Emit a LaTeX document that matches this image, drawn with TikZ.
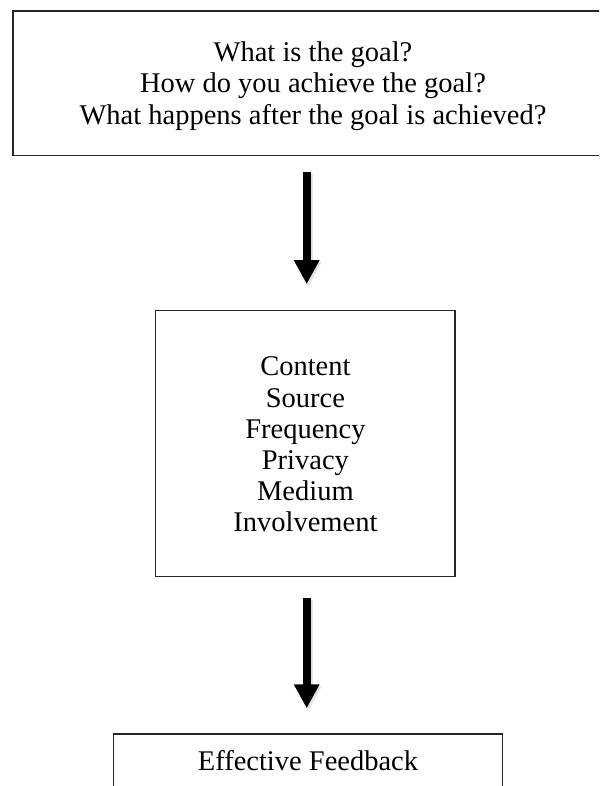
\documentclass[tikz,border=0pt]{standalone}
\usepackage{fontspec}
\setmainfont{Liberation Serif}
\usetikzlibrary{arrows.meta}
\begin{document}
\begin{tikzpicture}[x=1pt,y=1pt,
  box/.style={draw=black!85, line width=1.3pt, rectangle, inner sep=0pt},
  words/.style={align=center, inner sep=0pt, font=\fontsize{28.5}{31.2}\selectfont},
  flow/.style={line width=8pt, -{Triangle[length=24pt,width=24pt]}},
  flowshadow/.style={line width=9pt, draw=black!22, opacity=0.5,
    -{Triangle[length=25pt,width=25pt]}}]
  \clip (0,0) rectangle (599,786);
  \fill[white] (0,0) rectangle (599,786);

  % questions box (runs past the right edge)
  \node[box, minimum width=620pt, minimum height=144.4pt] (goal) at (323,702.8) {};
  \node[words] (goaltext) at ([xshift=-10pt,yshift=-3pt]goal.center)
    {What is the goal?\\How do you achieve the goal?\\What happens after the goal is achieved?};

  % feedback characteristics
  \node[box, minimum width=299.2pt, minimum height=265.6pt] (traits) at (305.4,342.4) {};
  \node[words] (traitstext) at ([yshift=-1pt]traits.center)
    {Content\\Source\\Frequency\\Privacy\\Medium\\Involvement};

  % result box (bottom edge below the frame)
  \node[box, minimum width=388.5pt, minimum height=54pt] (result) at (308,25) {};
  \node[words] (resulttext) at (result.center) {Effective Feedback};

  % arrows between the boxes, with a soft shadow
  \draw[flowshadow, shorten <=16pt, shorten >=25pt]
    ([xshift=2.8pt,yshift=-2pt]traits.north |- goal.south) -- ([xshift=2.8pt,yshift=-2pt]traits.north);
  \draw[flow, shorten <=16pt, shorten >=26pt]
    ([xshift=1.3pt]traits.north |- goal.south) -- ([xshift=1.3pt]traits.north);

  \draw[flowshadow, shorten <=21pt, shorten >=24pt]
    ([xshift=2.8pt,yshift=-2pt]traits.south) -- ([xshift=2.8pt,yshift=-2pt]traits.south |- result.north);
  \draw[flow, shorten <=21pt, shorten >=25pt]
    ([xshift=1.3pt]traits.south) -- ([xshift=1.3pt]traits.south |- result.north);
\end{tikzpicture}
\end{document}
